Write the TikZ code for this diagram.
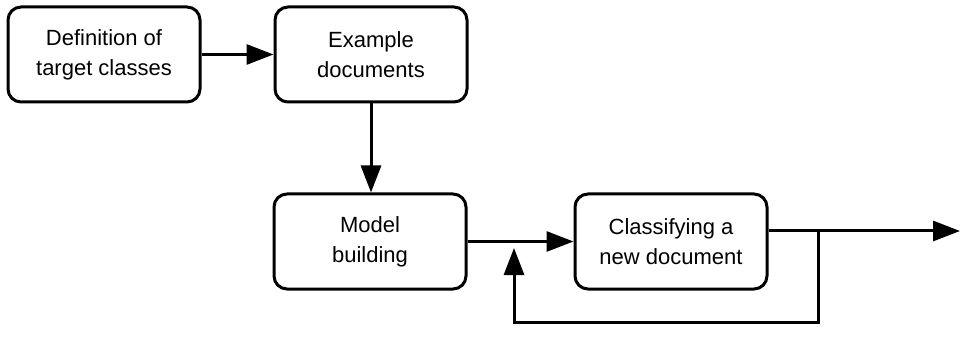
\documentclass[tikz,border=0pt]{standalone}
\usepackage{fontspec}
\setmainfont{Liberation Sans}
\usetikzlibrary{arrows.meta,calc}
\begin{document}
\begin{tikzpicture}[x=1pt,y=-1pt,
  stepbox/.style={draw=black,line width=3pt,rounded corners=13pt,fill=white,
    minimum width=192pt,minimum height=95pt,align=center,
    font=\fontsize{22pt}{30pt}\selectfont,inner sep=0pt},
  flow/.style={line width=3pt,-{Triangle[length=27pt,width=20pt]}},
  link/.style={line width=3pt}]
  \useasboundingbox (0,0) rectangle (960,347);
  % process steps
  \node[stepbox] (def)   at (104,54.5)  {Definition of\\target classes};
  \node[stepbox] (ex)    at (371,54.5)  {Example\\documents};
  \node[stepbox] (model) at (370,241.5) {Model\\building};
  \node[stepbox] (cls)   at (671,241.5) {Classifying a\\new document};
  % helper points for the output line and the feedback loop
  \coordinate (out)  at (960,231);
  \coordinate (jA)   at (818,231);
  \coordinate (jB)   at (818,322);
  \coordinate (jC)   at (514,322);
  \coordinate (back) at (514,248);
  % connectors
  \draw[flow] (def.east) -- (ex.west);
  \draw[flow] (ex.south) -- (ex.south |- model.north);
  \draw[flow] (model.east) -- (cls.west);
  \draw[flow] (cls.east |- out) -- (out);
  \draw[link] (jA) -- (jB) -- (jC) -- ++(0,-10);
  \draw[flow] (jC) -- (back);
\end{tikzpicture}
\end{document}
